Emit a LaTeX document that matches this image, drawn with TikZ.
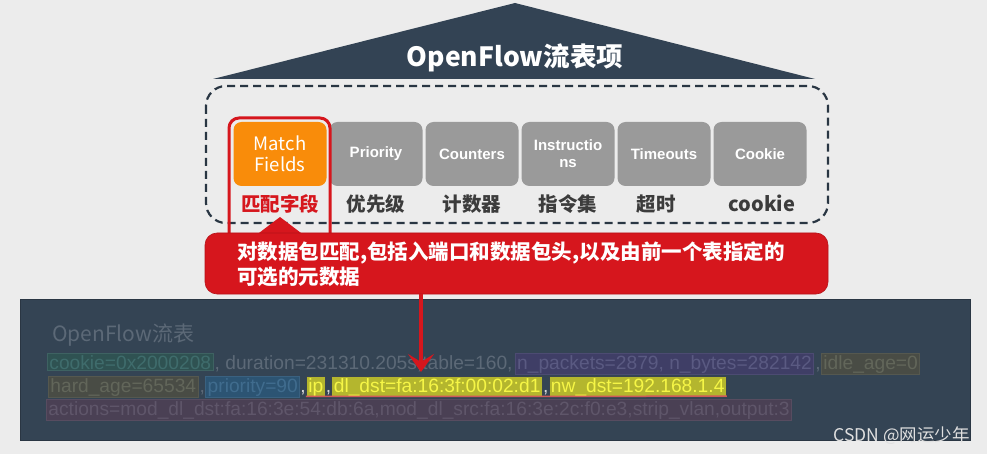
\documentclass[tikz,border=0pt]{standalone}
\usepackage{fontspec}
\setmainfont{Liberation Sans}
\newfontfamily\cjk{Noto Sans CJK SC}
\usetikzlibrary{arrows.meta}
\definecolor{bgc}{HTML}{ECECEC}
\definecolor{navy}{HTML}{334354}
\definecolor{boxgray}{HTML}{9A9A9A}
\definecolor{orangec}{HTML}{F98C0A}
\definecolor{redc}{HTML}{D6161D}
\definecolor{lbl}{HTML}{3C3C3C}
\definecolor{panel}{HTML}{344454}
\definecolor{ptext}{HTML}{5C6977}
\definecolor{tealf}{HTML}{2F5252}\definecolor{tealb}{HTML}{3E6262}\definecolor{tealt}{HTML}{3F6C6C}
\definecolor{purf}{HTML}{3F3E66}\definecolor{purb}{HTML}{4C4B72}\definecolor{purt}{HTML}{5A5A82}
\definecolor{olvf}{HTML}{494C45}\definecolor{olvb}{HTML}{55584F}\definecolor{olvt}{HTML}{62665A}
\definecolor{bluf}{HTML}{2C5473}\definecolor{blub}{HTML}{3A6180}\definecolor{blut}{HTML}{406C8E}
\definecolor{yelf}{HTML}{B4B62E}\definecolor{yelb}{HTML}{3A4450}\definecolor{yelt}{HTML}{F6F646}
\definecolor{mauf}{HTML}{4A4054}\definecolor{maub}{HTML}{574C60}\definecolor{maut}{HTML}{5F566A}
\definecolor{ulred}{HTML}{D05A5A}
\begin{document}
\begin{tikzpicture}[x=1pt,y=-1pt,
  fieldbox/.style={fill=boxgray,rounded corners=8pt,minimum width=93pt,minimum height=64pt,inner sep=0pt,text=white,font=\bfseries\fontsize{15}{17}\selectfont,align=center},
  fieldlbl/.style={font=\cjk\bfseries\fontsize{19.5}{21}\selectfont,text=lbl,inner sep=0pt},
  ptxt/.style={inner sep=0pt,anchor=base west,text=ptext,font=\fontsize{19.2}{23}\selectfont},
  hl/.style n args={3}{draw=#2,fill=#1,text=#3,line width=0.8pt,inner xsep=2pt,inner ysep=1.5pt,anchor=base west,font=\fontsize{19.2}{23}\selectfont},
  comma/.style={inner xsep=0pt,inner ysep=0pt,anchor=base west,text=white!85!black,font=\fontsize{19.2}{23}\selectfont},
  calltext/.style={anchor=base west,text=white,font=\cjk\bfseries\fontsize{20.5}{25}\selectfont,inner sep=0pt}
]
\useasboundingbox (0,0) rectangle (987,454);
\fill[bgc] (0,0) rectangle (987,454);
% roof
\fill[navy] (213,79) -- (515,3) -- (815,79) -- cycle;
\node[text=white,font=\cjk\bfseries\fontsize{26.5}{28}\selectfont] (title) at (515,58) {OpenFlow流表项};
% dashed container
\draw[line width=2.2pt,dash pattern=on 8pt off 5pt,color=navy!80!black,rounded corners=20pt] (206,86) rectangle (828,223);
% fields
\node[fieldbox,fill=orangec,font=\cjk\fontsize{18.5}{21}\selectfont] (mf) at (280,154) {Match\\Fields};
\node[fieldbox] (pr) at (376,154) {Priority};
\node[fieldbox] (co) at (472,154) {Counters};
\node[fieldbox] (in) at (568,154) {Instructio\\ns};
\node[fieldbox] (ti) at (664,154) {Timeouts};
\node[fieldbox] (ck) at (760,154) {Cookie};
\node[fieldlbl,text=redc] (l1) at (280,204) {匹配字段};
\node[fieldlbl] (l2) at (376,204) {优先级};
\node[fieldlbl] (l3) at (472,204) {计数器};
\node[fieldlbl] (l4) at (568,204) {指令集};
\node[fieldlbl] (l5) at (656,204) {超时};
\node[fieldlbl,font=\cjk\bfseries\fontsize{20}{22}\selectfont] (l6) at (762,203) {cookie};
% red outline around match fields
\draw[redc,line width=3pt,rounded corners=10pt] (229,118) rectangle (330,250);
% callout
\fill[redc] (255,236) -- (280,217) -- (305,236) -- cycle;
\node[fill=redc,draw=redc!85!black,line width=0.6pt,rounded corners=12pt,minimum width=623pt,minimum height=61pt,inner sep=0pt] (call) at (516.5,263.5) {};
\node[calltext] (ct1) at (237,259) {对数据包匹配,包括入端口和数据包头,以及由前一个表指定的};
\node[calltext] (ct2) at (237,284) {可选的元数据};
% dark panel
\node[fill=panel,draw=panel!80!black,line width=0.8pt,minimum width=950pt,minimum height=141pt,inner sep=0pt] (pan) at (495,369.5) {};
\node[ptxt,font=\cjk\fontsize{21}{24}\selectfont] (ptitle) at (52,341) {OpenFlow流表};
% line 1
\node[hl={tealf}{tealb}{tealt}] (a1) at (47,369) {cookie=0x2000208};
\node[ptxt] (a2) at ([xshift=1pt]a1.base east) {, duration=231310.205s,table=160,};
\node[hl={purf}{purb}{purt}] (a3) at ([xshift=2pt]a2.base east) {n\_packets=2879, n\_bytes=282142};
\node[ptxt] (a4) at ([xshift=1pt]a3.base east) {, };
\node[hl={olvf}{olvb}{olvt}] (a5) at (a4.base east) {idle\_age=0};
% line 2
\node[hl={olvf}{olvb}{olvt}] (b1) at (48,392) {hard\_age=65534};
\node[ptxt] (b2) at ([xshift=1pt]b1.base east) {, };
\node[hl={bluf}{blub}{blut}] (b3) at (b2.base east) {priority=90};
\node[comma] (b4) at (b3.base east) {,};
\node[hl={yelf}{yelb}{yelt}] (b5) at (b4.base east) {ip};
\node[comma] (b6) at (b5.base east) {,};
\node[hl={yelf}{yelb}{yelt}] (b7) at (b6.base east) {dl\_dst=fa:16:3f:00:02:d1};
\node[comma] (b8) at (b7.base east) {,};
\node[hl={yelf}{yelb}{yelt}] (b9) at (b8.base east) {nw\_dst=192.168.1.4};
\draw[ulred,line width=1.5pt] ([yshift=1.5pt]b5.south west) -- ([yshift=1.5pt]b9.south east);
% line 3
\node[hl={mauf}{maub}{maut}] (c1) at (46,415) {actions=mod\_dl\_dst:fa:16:3e:54:db:6a,mod\_dl\_src:fa:16:3e:2c:f0:e3,strip\_vlan,output:3};
% red arrow
\draw[redc,line width=3.5pt,-{Stealth[length=18pt,width=26pt,inset=8pt]}] (call.south -| 421,0) -- (421,372);
% watermark
\node[anchor=east,inner sep=0pt,text=white!88!black,font=\cjk\fontsize{17.5}{19}\selectfont] (wm) at (970,436) {CSDN @网运少年};
\end{tikzpicture}
\end{document}
